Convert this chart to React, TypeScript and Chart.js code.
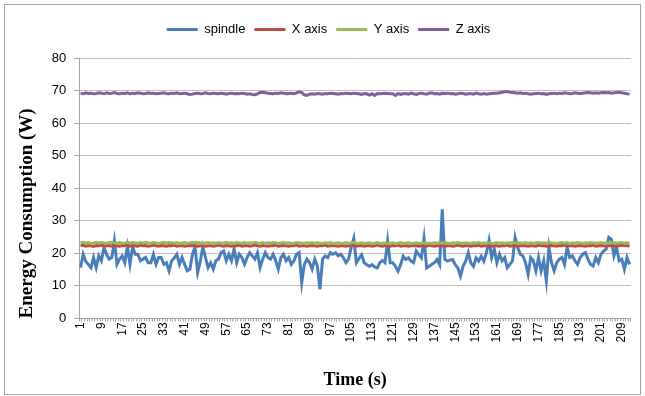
import React, { useEffect, useRef } from 'react';
import { Chart, registerables } from 'chart.js';

Chart.register(...registerables);

const seriesNames = ['spindle', 'X axis', 'Y axis', 'Z axis'];
const seriesColors = ['#4a7ebb', '#be4b48', '#98b954', '#7d60a0'];

const timeLabels: string[] = Array.from({ length: 212 }, (_, i) => String(i + 1));

const spindle = [
  15.6, 19.7, 17.5, 16.6, 15.6, 18.7, 15.6, 19.2, 17.7, 21.8,
  19.7, 18.2, 18.7, 23.8, 16.6, 18.2, 19.2, 17.1, 22.0, 16.6,
  22.0, 19.7, 19.7, 17.7, 18.2, 18.7, 17.1, 17.1, 19.7, 16.6,
  18.7, 18.7, 16.6, 17.1, 14.6, 17.7, 18.5, 19.7, 16.6, 18.7,
  16.6, 14.6, 15.1, 19.7, 22.0, 14.1, 17.5, 22.0, 18.7, 15.6,
  17.1, 15.1, 17.7, 18.2, 20.2, 20.7, 17.7, 19.7, 17.7, 21.3,
  17.1, 19.7, 18.7, 16.6, 18.7, 20.2, 19.2, 18.2, 20.2, 15.6,
  18.2, 20.2, 18.7, 18.2, 19.7, 17.7, 15.1, 18.7, 19.7, 17.7,
  18.7, 16.6, 17.7, 19.7, 20.2, 11.0, 16.6, 18.2, 17.1, 15.1,
  18.2, 16.1, 8.9, 18.2, 19.2, 18.7, 20.2, 19.7, 20.2, 19.2,
  19.7, 18.7, 17.1, 18.2, 21.8, 24.6, 17.1, 18.4, 19.6, 17.1,
  16.5, 16.0, 16.5, 15.8, 15.5, 17.1, 17.8, 17.1, 23.8, 17.1,
  17.1, 16.0, 14.5, 16.5, 19.1, 18.1, 18.6, 17.6, 17.1, 20.7,
  19.6, 18.6, 24.6, 15.5, 16.0, 16.6, 17.1, 18.1, 16.5, 33.5,
  18.1, 17.6, 17.9, 18.1, 16.5, 15.5, 13.0, 16.0, 17.6, 20.2,
  17.0, 16.0, 18.6, 17.6, 19.1, 17.6, 20.2, 24.0, 18.7, 21.3,
  17.1, 19.7, 17.7, 18.7, 15.6, 16.6, 17.7, 24.9, 21.8, 19.7,
  19.2, 17.1, 13.5, 18.7, 17.7, 14.6, 18.7, 14.6, 17.7, 11.5,
  21.8, 17.1, 14.6, 17.1, 18.2, 18.7, 16.6, 21.8, 18.7, 19.2,
  17.7, 16.6, 18.7, 19.7, 20.2, 18.2, 16.6, 16.1, 18.7, 17.1,
  19.7, 20.7, 21.3, 24.9, 24.3, 19.2, 21.8, 17.7, 18.2, 15.1,
  18.7, 16.6,
];

const xAxis = [
  22.3, 22.5, 22.2, 22.4, 22.3, 22.1, 22.4, 22.3, 22.5, 22.2,
  22.3, 22.4, 22.2, 22.6, 22.3, 22.2, 22.4, 22.3, 22.5, 22.2,
  22.4, 22.3, 22.2, 22.5, 22.3, 22.4, 22.2, 22.3, 22.5, 22.3,
  22.2, 22.4, 22.3, 22.2, 22.4, 22.3, 22.5, 22.2, 22.3, 22.4,
  22.2, 22.3, 22.4, 22.3, 22.5, 22.2, 22.3, 22.4, 22.2, 22.3,
  22.4, 22.2, 22.3, 22.5, 22.3, 22.2, 22.4, 22.3, 22.2, 22.4,
  22.3, 22.5, 22.2, 22.3, 22.4, 22.2, 22.3, 22.5, 22.3, 22.2,
  22.4, 22.3, 22.2, 22.4, 22.3, 22.5, 22.2, 22.3, 22.4, 22.3,
  22.2, 22.4, 22.3, 22.5, 22.2, 22.3, 22.4, 22.2, 22.3, 22.4,
  22.3, 22.2, 22.4, 22.3, 22.5, 22.2, 22.3, 22.4, 22.3, 22.2,
  22.4, 22.3, 22.2, 22.4, 22.3, 22.6, 22.2, 22.3, 22.4, 22.2,
  22.3, 22.4, 22.2, 22.3, 22.5, 22.3, 22.2, 22.4, 22.3, 22.2,
  22.4, 22.3, 22.5, 22.2, 22.3, 22.4, 22.2, 22.3, 22.4, 22.3,
  22.2, 22.4, 22.3, 22.2, 22.5, 22.3, 22.2, 22.4, 22.3, 22.4,
  22.2, 22.3, 22.4, 22.2, 22.3, 22.5, 22.3, 22.2, 22.4, 22.3,
  22.2, 22.4, 22.3, 22.5, 22.2, 22.3, 22.4, 22.3, 22.2, 22.4,
  22.3, 22.2, 22.4, 22.3, 22.5, 22.2, 22.3, 22.4, 22.2, 22.3,
  22.4, 22.3, 22.2, 22.4, 22.3, 22.2, 22.5, 22.3, 22.4, 22.2,
  22.3, 22.4, 22.3, 22.2, 22.4, 22.3, 22.5, 22.2, 22.3, 22.4,
  22.2, 22.3, 22.4, 22.3, 22.2, 22.4, 22.3, 22.5, 22.2, 22.3,
  22.4, 22.3, 22.2, 22.4, 22.3, 22.2, 22.4, 22.3, 22.5, 22.3,
  22.4, 22.2,
];

const yAxis = [
  23.2, 23.4, 23.1, 23.3, 23.0, 23.2, 23.4, 23.1, 23.3, 23.2,
  23.1, 23.3, 23.4, 23.2, 23.0, 23.3, 23.1, 23.2, 23.4, 23.1,
  23.3, 23.2, 23.0, 23.3, 23.1, 23.4, 23.2, 23.1, 23.3, 23.2,
  23.0, 23.2, 23.4, 23.1, 23.3, 23.2, 23.1, 23.3, 23.0, 23.2,
  23.3, 23.1, 23.2, 23.4, 23.1, 23.3, 23.2, 23.0, 23.2, 23.3,
  23.1, 23.2, 23.0, 23.3, 23.1, 23.2, 23.4, 23.1, 23.2, 23.0,
  23.3, 23.2, 23.1, 23.3, 23.0, 23.2, 23.1, 23.4, 23.2, 23.1,
  23.3, 23.0, 23.2, 23.1, 23.3, 23.2, 23.0, 23.2, 23.3, 23.1,
  23.2, 23.0, 23.1, 23.3, 23.2, 23.1, 23.0, 23.2, 23.1, 23.3,
  23.0, 23.2, 23.1, 23.0, 23.2, 23.1, 23.3, 23.0, 23.1, 23.2,
  23.0, 23.1, 23.3, 23.0, 23.2, 23.4, 23.0, 23.1, 23.2, 23.0,
  23.1, 23.2, 23.0, 23.1, 23.3, 23.0, 23.1, 23.2, 23.0, 23.1,
  23.2, 23.0, 23.1, 23.3, 23.0, 23.1, 23.2, 23.0, 23.1, 23.2,
  23.0, 23.1, 23.2, 23.0, 23.1, 23.0, 23.2, 23.1, 23.3, 23.0,
  23.2, 23.1, 23.0, 23.2, 23.1, 23.3, 23.0, 23.1, 23.2, 23.1,
  23.0, 23.2, 23.1, 23.3, 23.0, 23.2, 23.1, 23.2, 23.0, 23.1,
  23.3, 23.1, 23.2, 23.0, 23.2, 23.1, 23.3, 23.2, 23.0, 23.2,
  23.1, 23.3, 23.0, 23.2, 23.1, 23.2, 23.3, 23.0, 23.2, 23.1,
  23.3, 23.2, 23.1, 23.0, 23.2, 23.3, 23.1, 23.2, 23.0, 23.2,
  23.1, 23.3, 23.2, 23.0, 23.2, 23.1, 23.3, 23.2, 23.1, 23.2,
  23.3, 23.1, 23.2, 23.0, 23.2, 23.3, 23.1, 23.2, 23.3, 23.1,
  23.2, 23.0,
];

const zAxis = [
  69.2, 69.0, 69.3, 69.1, 69.2, 69.0, 69.1, 69.3, 69.2, 69.0,
  69.3, 69.1, 69.2, 69.4, 69.1, 69.0, 69.2, 69.1, 69.3, 69.0,
  69.2, 69.1, 69.3, 69.2, 69.0, 69.1, 69.3, 69.1, 69.2, 69.0,
  69.1, 69.2, 69.3, 69.1, 69.0, 69.2, 69.1, 69.3, 69.0, 69.1,
  69.2, 69.0, 68.8, 68.9, 69.1, 69.2, 69.0, 69.1, 69.3, 69.1,
  69.0, 69.2, 69.1, 69.0, 69.2, 69.1, 68.9, 69.1, 69.2, 69.0,
  69.1, 69.0, 69.2, 69.1, 68.9, 69.0, 68.8, 68.7, 69.0, 69.4,
  69.5, 69.3, 69.2, 69.1, 69.0, 69.2, 69.1, 69.3, 69.2, 69.0,
  69.1, 69.2, 69.0, 69.3, 69.6, 69.4, 68.7, 68.5, 68.9, 69.0,
  68.9, 69.1, 69.0, 68.9, 69.1, 69.0, 69.2, 69.1, 69.0, 68.9,
  69.1, 69.0, 69.2, 69.1, 69.0, 69.2, 69.1, 69.0, 68.8, 69.1,
  69.0, 68.6, 69.0, 68.5, 69.1, 69.0, 69.1, 69.2, 69.1, 69.0,
  69.0, 68.5, 69.1, 68.8, 69.0, 69.1, 68.9, 69.2, 69.0, 68.8,
  69.1, 69.2, 69.0, 68.9, 69.2, 69.3, 69.0, 69.1, 68.9, 69.2,
  69.1, 69.2, 69.0, 69.1, 68.9, 69.0, 69.2, 69.1, 68.9, 69.0,
  69.1, 68.9, 69.2, 69.0, 68.9, 69.1, 68.9, 69.0, 69.1, 69.2,
  69.2, 69.3, 69.5, 69.6, 69.7, 69.5, 69.4, 69.3, 69.2, 69.3,
  69.1, 69.2, 69.0, 68.9, 69.0, 69.1, 69.2, 69.0, 69.1, 68.8,
  69.0, 69.1, 69.2, 69.0, 69.2, 69.1, 69.3, 69.2, 69.0, 69.1,
  69.3, 69.2, 69.1, 69.2, 69.3, 69.4, 69.3, 69.2, 69.3, 69.2,
  69.3, 69.4, 69.3, 69.4, 69.2, 69.3, 69.4, 69.5, 69.3, 69.2,
  69.0, 68.9,
];

const yTickMin = 0;
const yTickMax = 80;
const yTickStep = 10;
const xLabelEvery = 8;

const frameAndBackground = {
  id: 'frameAndBackground',
  beforeDraw(chart: any) {
    const { ctx, width, height } = chart;
    ctx.save();
    ctx.fillStyle = '#ffffff';
    ctx.fillRect(0, 0, width, height);
    ctx.strokeStyle = '#a6a6a6';
    ctx.lineWidth = 1;
    ctx.strokeRect(4.5, 4.5, width - 9, height - 1.5 - 4.5);
    ctx.restore();
  },
};

const legendGap = {
  id: 'legendGap',
  beforeInit(chart: any) {
    const legend = chart.legend;
    if (!legend) return;
    const origFit = legend.fit;
    legend.fit = function () {
      origFit.bind(legend)();
      this.height += 12;
    };
  },
};

export default function App() {
  const canvasRef = useRef<HTMLCanvasElement | null>(null);

  useEffect(() => {
    const canvas = canvasRef.current;
    if (!canvas) return;
    const seriesData = [spindle, xAxis, yAxis, zAxis];
    const chart = new Chart(canvas, {
      type: 'line',
      data: {
        labels: timeLabels,
        datasets: seriesNames.map((name, i) => ({
          label: name,
          data: seriesData[i],
          borderColor: seriesColors[i],
          backgroundColor: seriesColors[i],
          borderWidth: 3,
          pointRadius: 0,
          tension: 0,
          fill: false,
          order: 4 - i,
        })),
      },
      options: {
        responsive: false,
        animation: false,
        layout: { padding: { left: 16, right: 4, top: 14, bottom: 5 } },
        plugins: {
          tooltip: { enabled: false },
          legend: {
            position: 'top',
            labels: {
              boxWidth: 31,
              boxHeight: 3,
              padding: 9,
              color: '#000000',
              font: { family: 'Liberation Sans', size: 13 },
              sort: (a: any, b: any) => a.datasetIndex - b.datasetIndex,
              generateLabels: (chart: any) =>
                Chart.defaults.plugins.legend.labels
                  .generateLabels(chart)
                  .map((l: any) => ({ ...l, lineWidth: 0 })),
            },
          },
        },
        scales: {
          x: {
            offset: true,
            grid: {
              display: true,
              drawOnChartArea: false,
              drawTicks: true,
              tickLength: 3,
              color: '#a6a6a6',
              offset: true,
            },
            border: { color: '#a6a6a6' },
            ticks: {
              autoSkip: false,
              minRotation: 90,
              maxRotation: 90,
              padding: 1,
              color: '#000000',
              font: { family: 'Liberation Sans', size: 12 },
              callback: (_v: any, idx: number) => (idx % xLabelEvery === 0 ? timeLabels[idx] : ''),
            },
            title: {
              display: true,
              text: 'Time (s)',
              color: '#000000',
              font: { family: 'Liberation Serif', size: 18, weight: 'bold' },
              padding: { top: 26, bottom: 0 },
            },
          },
          y: {
            min: yTickMin,
            max: yTickMax,
            grid: { color: '#bfbfbf', tickLength: 5, tickColor: '#a6a6a6' },
            border: { color: '#a6a6a6' },
            ticks: {
              stepSize: yTickStep,
              padding: 8,
              color: '#000000',
              font: { family: 'Liberation Sans', size: 13 },
            },
            title: {
              display: true,
              align: 'start',
              text: 'Energy Consumption (W)',
              color: '#000000',
              font: { family: 'Liberation Serif', size: 19, weight: 'bold' },
              padding: { top: 0, bottom: 5 },
            },
          },
        },
      },
      plugins: [frameAndBackground, legendGap],
    });
    return () => chart.destroy();
  }, []);

  return (
    <div style={{ position: 'absolute', left: 0, top: 0, width: 645, height: 396 }}>
      <canvas ref={canvasRef} width={645} height={396} />
    </div>
  );
}
